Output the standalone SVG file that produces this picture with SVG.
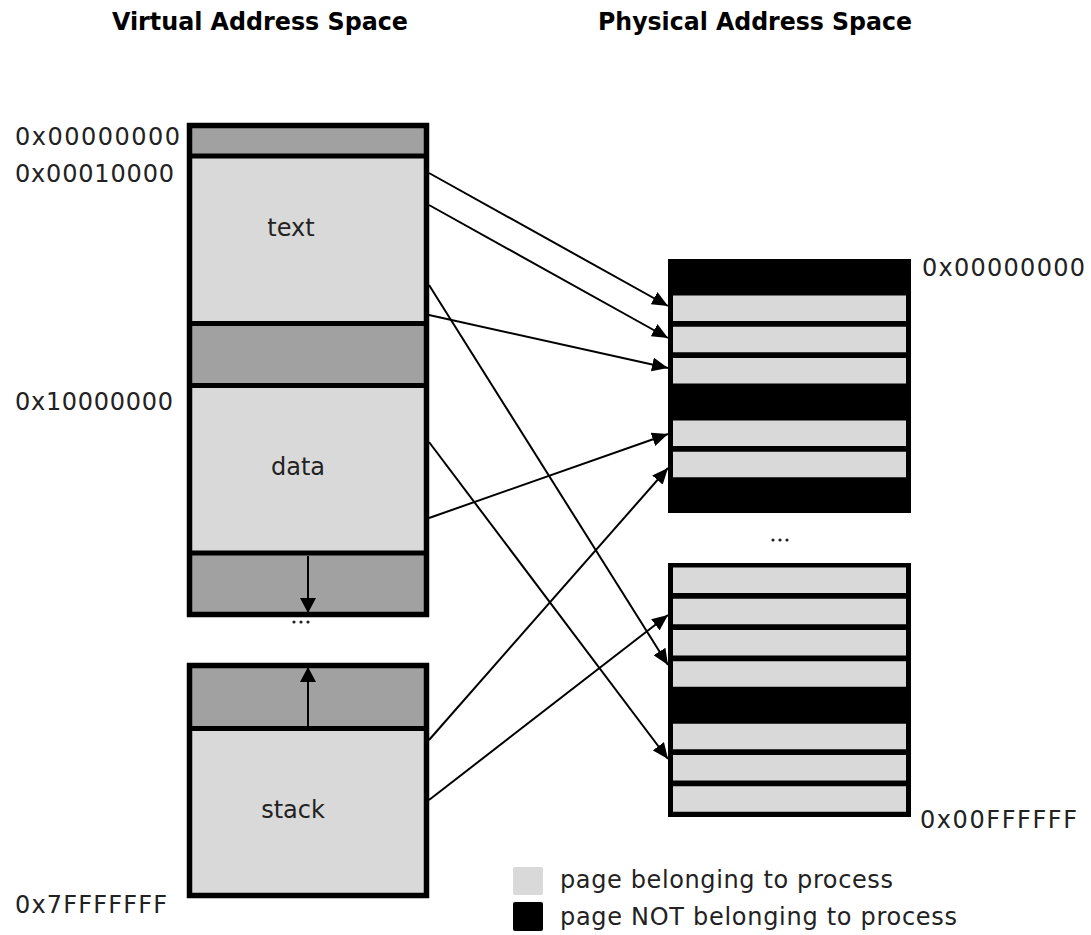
<svg xmlns="http://www.w3.org/2000/svg" width="1091" height="935" viewBox="0 0 1091 935">
  <style>
    .title { font-family: "DejaVu Sans Condensed", "DejaVu Sans", sans-serif; font-stretch: condensed; font-weight: bold; font-size: 25px; fill: #000; }
    .addr { font-family: "DejaVu Sans", "Noto Sans", sans-serif; font-size: 24px; fill: #222; }
    .seg { font-family: "DejaVu Sans", "Noto Sans", sans-serif; font-size: 24px; fill: #222; text-anchor: middle; }
    .legend { font-family: "DejaVu Sans", "Noto Sans", sans-serif; font-size: 24px; fill: #222; }
    .frame { fill: none; stroke: #000; stroke-width: 5.5; }
    .divider { stroke: #000; stroke-width: 5; }
    .unused { fill: #a1a1a1; }
    .used { fill: #d9d9d9; }
    .page { fill: #d9d9d9; }
    .map { fill: none; stroke: #000; stroke-width: 2; marker-end: url(#head); }
    .grow { fill: none; stroke: #000; stroke-width: 2; marker-end: url(#head-big); }
  </style>
  <defs>
    <marker id="head" markerUnits="userSpaceOnUse" markerWidth="16" markerHeight="14" refX="16" refY="7" orient="auto">
      <path d="M0,0 L16,7 L0,14 Z" fill="#000"/>
    </marker>
    <marker id="head-big" markerUnits="userSpaceOnUse" markerWidth="15" markerHeight="16" refX="15" refY="8" orient="auto">
      <path d="M0,0 L15,8 L0,16 Z" fill="#000"/>
    </marker>
  </defs>

  <rect width="1091" height="935" fill="#fff"/>

  <!-- column headings -->
  <text class="title" x="112" y="30" textLength="296" lengthAdjust="spacingAndGlyphs">Virtual Address Space</text>
  <text class="title" x="598" y="30" textLength="314" lengthAdjust="spacingAndGlyphs">Physical Address Space</text>

  <!-- virtual address labels -->
  <g id="virtual-labels">
    <text class="addr" x="15" y="145" textLength="165">0x00000000</text>
    <text class="addr" x="15" y="182" textLength="159">0x00010000</text>
    <text class="addr" x="15" y="410" textLength="158">0x10000000</text>
    <text class="addr" x="15" y="913" textLength="152">0x7FFFFFFF</text>
  </g>

  <!-- virtual space: upper block (reserved, text, gap, data, heap) -->
  <g id="virtual-upper">
    <rect class="unused" x="189.5" y="125.5" width="237" height="30.5"/>
    <rect class="used" x="189.5" y="156" width="237" height="167.5"/>
    <rect class="unused" x="189.5" y="323.5" width="237" height="62"/>
    <rect class="used" x="189.5" y="385.5" width="237" height="167.5"/>
    <rect class="unused" x="189.5" y="553" width="237" height="61.5"/>
    <line class="divider" x1="189.5" y1="156" x2="426.5" y2="156"/>
    <line class="divider" x1="189.5" y1="323.5" x2="426.5" y2="323.5"/>
    <line class="divider" x1="189.5" y1="385.5" x2="426.5" y2="385.5"/>
    <line class="divider" x1="189.5" y1="553" x2="426.5" y2="553"/>
    <rect class="frame" x="189.5" y="125.5" width="237" height="489"/>
    <text class="seg" x="291" y="236">text</text>
    <text class="seg" x="298" y="475">data</text>
    <line class="grow" x1="308" y1="556" x2="308" y2="613"/>
  </g>

  <!-- gap between heap and stack -->
  <g id="virtual-gap">
    <circle cx="294" cy="622" r="1.6" fill="#222"/>
    <circle cx="301" cy="622" r="1.6" fill="#222"/>
    <circle cx="308" cy="622" r="1.6" fill="#222"/>
  </g>

  <!-- virtual space: stack block -->
  <g id="virtual-stack">
    <rect class="unused" x="189.5" y="665.5" width="237" height="63"/>
    <rect class="used" x="189.5" y="728.5" width="237" height="167"/>
    <line class="divider" x1="189.5" y1="728.5" x2="426.5" y2="728.5"/>
    <rect class="frame" x="189.5" y="665.5" width="237" height="230"/>
    <text class="seg" x="293" y="818">stack</text>
    <line class="grow" x1="308" y1="726" x2="308" y2="667"/>
  </g>

  <!-- physical memory, first frame range -->
  <g id="physical-low">
    <rect x="668" y="259" width="243" height="254" fill="#000"/>
    <rect class="page" x="673" y="295.5" width="233" height="25.5"/>
    <rect class="page" x="673" y="326.75" width="233" height="25.5"/>
    <rect class="page" x="673" y="358" width="233" height="25.5"/>
    <rect class="page" x="673" y="420.5" width="233" height="25.5"/>
    <rect class="page" x="673" y="451.75" width="233" height="25.5"/>
  </g>
  <text class="addr" x="922" y="276" textLength="163">0x00000000</text>

  <!-- frames omitted between the two ranges -->
  <g id="physical-gap">
    <circle cx="773" cy="540" r="1.6" fill="#222"/>
    <circle cx="780" cy="540" r="1.6" fill="#222"/>
    <circle cx="787" cy="540" r="1.6" fill="#222"/>
  </g>

  <!-- physical memory, last frame range -->
  <g id="physical-high">
    <rect x="668" y="563" width="243" height="254" fill="#000"/>
    <rect class="page" x="673" y="567.5" width="233" height="25.5"/>
    <rect class="page" x="673" y="598.75" width="233" height="25.5"/>
    <rect class="page" x="673" y="630" width="233" height="25.5"/>
    <rect class="page" x="673" y="661.25" width="233" height="25.5"/>
    <rect class="page" x="673" y="723.75" width="233" height="25.5"/>
    <rect class="page" x="673" y="755" width="233" height="25.5"/>
    <rect class="page" x="673" y="786.25" width="233" height="25.5"/>
  </g>
  <text class="addr" x="920" y="828" textLength="157">0x00FFFFFF</text>

  <!-- page mappings: virtual page -> physical frame -->
  <g id="mappings">
    <line class="map" x1="429" y1="173" x2="668" y2="306"/>
    <line class="map" x1="429" y1="205" x2="668" y2="338"/>
    <line class="map" x1="429" y1="285" x2="668" y2="665"/>
    <line class="map" x1="429" y1="315" x2="668" y2="368"/>
    <line class="map" x1="429" y1="442" x2="668" y2="759"/>
    <line class="map" x1="429" y1="518" x2="668" y2="434"/>
    <line class="map" x1="429" y1="740" x2="668" y2="468"/>
    <line class="map" x1="429" y1="800" x2="668" y2="615"/>
  </g>

  <!-- legend -->
  <g id="legend">
    <rect x="513" y="867" width="30" height="28" rx="2" fill="#d9d9d9"/>
    <rect x="513" y="902" width="30" height="29" rx="2" fill="#000"/>
    <text class="legend" x="560" y="888" textLength="333">page belonging to process</text>
    <text class="legend" x="560" y="925" textLength="397">page NOT belonging to process</text>
  </g>
</svg>
